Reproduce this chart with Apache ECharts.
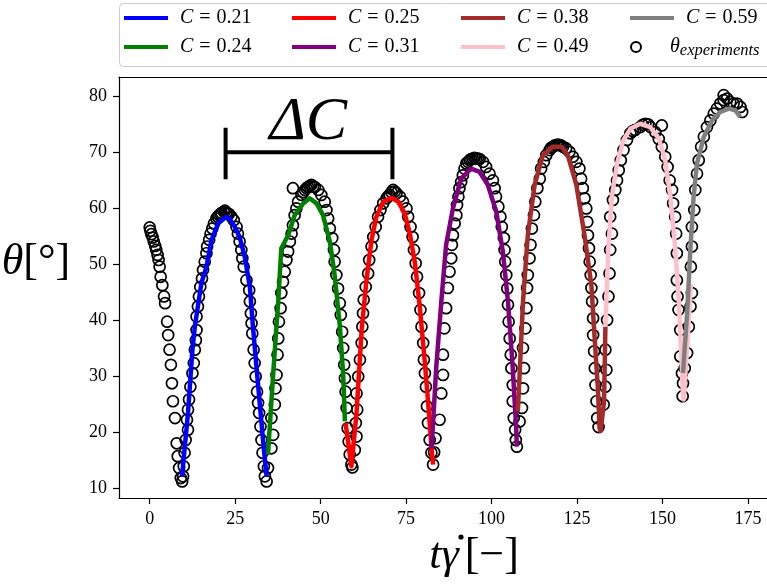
<!DOCTYPE html>
<html><head><meta charset="utf-8">
<script src="https://cdn.jsdelivr.net/npm/echarts@6/dist/echarts.min.js"></script>
<style>html,body{margin:0;padding:0;background:#fff}#c{width:767px;height:585px}</style>
</head><body><div id="c"></div>
<script>
const xTicks = [0, 25, 50, 75, 100, 125, 150, 175];
const yTicks = [10, 20, 30, 40, 50, 60, 70, 80];

const experiments = [
[0.0,56.6],[0.2,56.0],[0.5,55.4],[0.9,54.8],[1.2,54.1],[1.6,53.3],[1.9,52.6],[2.3,51.7],[2.6,50.8],[2.9,49.6],[3.2,47.8],[3.7,46.3],[4.2,44.3],[4.5,43.1],[5.1,39.8],[5.4,37.4],[5.8,34.8],[6.2,32.1],[6.5,28.8],[6.8,25.6],[7.4,22.6],[7.9,18.1],[8.2,15.8],[8.6,13.7],[9.1,11.9],[9.5,11.3],
[9.75,12.2],[9.95,14.0],[10.2,16.4],[10.5,18.7],[11.2,20.5],[10.9,22.3],[11.2,24.1],[11.5,25.9],[11.9,28.2],[12.5,30.6],[12.9,32.4],[13.2,34.8],[13.5,36.5],[13.7,38.3],[13.7,40.7],[14.1,42.5],[14.4,44.3],[14.8,46.0],[15.3,47.5],[15.6,49.0],[16.1,50.5],[16.6,52.0],[16.8,53.2],[17.4,54.4],[17.8,55.5],[18.3,56.4],[18.8,57.3],[19.5,58.2],[19.9,58.5],[20.3,58.8],[20.7,59.0],[21.0,59.2],[21.7,59.4],[22.0,59.6],[22.4,59.2],[22.8,59.1],[23.2,59.0],[23.9,58.5],[24.6,57.9],[25.4,56.7],[25.8,55.5],[26.3,54.1],[26.8,52.6],[27.1,51.1],[27.5,49.6],[28.3,47.2],[29.1,45.4],[29.3,43.4],[29.6,41.3],[29.8,39.5],[30.0,37.7],[30.4,34.8],[30.7,32.4],[31.0,30.0],[31.4,27.3],[31.7,25.3],[32.0,23.5],[32.4,21.1],[32.7,18.7],[33.0,16.4],[33.4,14.0],[33.7,12.2],[34.2,11.3],
[34.6,13.7],[35.6,17.2],[36.1,19.6],[35.6,22.6],[36.6,25.0],[36.8,27.9],[37.1,30.3],[37.4,33.9],[37.6,36.8],[37.8,39.8],[38.3,42.2],[38.5,44.9],[39.0,46.9],[39.5,48.7],[40.0,50.8],[40.5,52.3],[41.0,54.1],[41.5,55.5],[41.9,57.0],[42.4,58.8],[42.9,60.0],[43.4,61.2],[41.9,63.6],[44.4,62.4],[44.9,62.9],[45.4,63.3],[45.9,63.6],[46.3,63.8],[46.8,64.0],[47.3,64.2],[47.8,63.9],[48.3,63.8],[49.3,63.3],[50.2,62.4],[51.2,61.2],[51.7,59.7],[52.2,58.2],[52.7,56.4],[53.4,54.7],[53.9,52.6],[54.1,50.5],[54.6,48.1],[55.1,45.7],[55.6,43.1],[55.9,41.0],[56.3,38.0],[56.6,35.1],[56.9,32.1],[57.1,29.7],[57.3,27.3],[57.6,24.4],[57.9,20.8],[58.2,18.4],[58.5,16.1],[59.0,14.3],
[59.3,13.8],[60.0,16.9],[60.5,19.3],[60.3,21.7],[60.7,24.1],[60.5,27.0],[61.0,30.0],[61.5,33.0],[62.0,36.0],[62.2,38.9],[62.4,41.3],[62.6,43.7],[63.2,46.0],[63.9,48.4],[64.2,50.8],[64.9,53.2],[65.4,54.9],[66.1,56.7],[66.8,58.5],[67.5,59.7],[68.3,60.9],[69.3,61.8],[69.8,62.2],[70.2,62.4],[70.7,62.9],[71.2,63.3],[71.7,63.0],[72.2,62.7],[73.2,62.1],[74.1,61.2],[75.1,60.0],[75.6,58.5],[76.3,56.7],[76.9,54.9],[77.3,52.6],[77.8,50.2],[78.2,47.8],[78.8,44.9],[79.2,41.9],[79.5,38.9],[80.0,36.0],[80.2,33.0],[80.5,30.6],[80.8,28.2],[81.1,24.7],[81.4,21.7],[81.9,18.7],[82.4,16.4],[82.9,14.3],
[83.2,16.5],[83.6,19.0],[84.8,22.3],[85.3,27.0],[85.8,30.3],[85.8,33.9],[86.2,38.6],[86.7,42.2],[87.2,45.8],[87.7,48.7],[88.2,51.1],[88.4,53.5],[88.7,55.2],[89.2,57.3],[89.7,58.8],[89.9,60.6],[90.3,62.1],[90.6,63.6],[91.1,64.7],[91.6,65.9],[92.1,67.1],[92.6,68.0],[93.1,68.3],[93.6,68.6],[94.0,68.8],[94.5,68.9],[95.0,69.0],[95.5,68.9],[96.0,68.9],[96.5,68.8],[97.5,68.3],[98.4,67.4],[99.4,66.2],[100.4,65.0],[100.9,63.6],[101.3,62.1],[102.0,60.3],[102.6,58.5],[103.0,56.7],[103.6,54.7],[103.8,52.6],[104.0,50.5],[104.3,48.1],[104.6,45.7],[104.8,42.8],[105.0,39.8],[105.3,36.8],[105.6,33.9],[105.8,31.5],[106.2,28.5],[106.2,25.6],[106.5,22.6],[106.9,20.5],[107.1,18.7],[107.4,17.5],
[108.2,22.0],[108.9,24.4],[109.2,27.9],[109.5,31.5],[109.2,35.1],[109.9,38.6],[110.2,42.2],[110.4,45.8],[110.6,48.1],[111.1,51.1],[111.4,53.5],[111.8,56.4],[112.4,58.8],[112.8,61.2],[113.4,63.6],[114.1,65.3],[114.5,67.1],[115.3,68.3],[116.0,69.5],[117.0,70.4],[117.4,70.8],[117.9,71.0],[118.4,71.2],[118.9,71.3],[119.4,71.4],[119.9,71.3],[120.4,71.2],[120.9,71.0],[121.8,70.7],[122.8,70.1],[123.8,69.2],[124.8,68.3],[125.7,67.1],[126.2,65.3],[126.7,63.6],[127.2,61.8],[127.7,60.0],[128.0,57.6],[128.2,55.2],[128.5,52.9],[128.7,50.5],[129.0,48.1],[129.2,45.8],[129.4,43.4],[129.7,40.4],[129.7,37.4],[130.0,34.5],[130.2,31.5],[130.4,28.5],[130.7,25.6],[130.9,22.6],[131.3,21.0],
[132.8,25.0],[133.3,28.2],[133.6,31.2],[133.3,34.8],[133.8,40.1],[134.2,44.3],[134.5,48.4],[134.7,52.6],[135.2,55.5],[134.7,58.5],[135.5,61.5],[136.2,63.3],[136.7,65.0],[137.2,66.8],[137.8,68.6],[138.6,70.4],[139.6,72.2],[140.6,73.4],[141.3,73.8],[142.0,74.0],[143.5,74.5],[144.2,74.9],[145.0,75.1],[145.8,75.0],[146.5,74.5],[149.8,74.8],[147.9,73.6],[148.9,72.4],[149.8,71.0],[150.8,69.2],[151.5,67.4],[152.1,65.0],[152.8,63.3],[153.1,60.9],[153.7,58.5],[154.0,55.5],[154.2,52.0],[154.2,47.2],[154.4,44.3],[154.7,41.9],[155.2,38.3],[155.2,33.6],[155.7,30.6],[156.0,28.8],[155.9,26.5],
[156.5,31.5],[157.2,34.2],[157.7,38.9],[158.2,42.5],[158.6,44.9],[158.3,49.6],[158.6,53.2],[158.6,56.7],[159.3,59.7],[159.6,63.3],[160.1,66.2],[160.6,68.6],[161.3,71.0],[162.1,72.8],[163.0,74.5],[164.0,75.7],[165.0,76.9],[165.9,77.8],[166.9,78.7],[167.9,79.3],[167.9,80.2],[168.9,79.6],[169.8,79.0],[170.8,78.7],[171.8,78.7],[172.8,78.1],[173.3,77.2]
];

const fit021 = [[9.45,12.2],[11.2,23.5],[12.5,34.8],[13.2,38.9],[15.1,46.6],[16.6,49.6],[18.1,54.4],[20.0,57.3],[21.9,58.3],[22.6,58.5],[23.4,58.1],[24.9,56.7],[26.3,54.9],[27.8,51.4],[29.3,46.0],[30.2,38.9],[31.4,30.6],[32.7,21.7],[33.7,15.2],[34.2,12.2]];
const fit024 = [[34.6,16.1],[36.1,30.3],[37.6,43.4],[38.5,52.9],[40.5,55.2],[42.4,58.8],[44.9,60.9],[46.8,61.8],[48.8,60.9],[50.7,58.8],[52.7,54.1],[54.1,48.1],[55.6,39.2],[56.6,30.3],[57.1,22.0]];
const fit025 = [[57.3,21.7],[59.0,14.0],[60.5,23.5],[62.0,38.3],[63.4,47.2],[64.9,54.4],[66.3,58.5],[68.3,61.2],[70.7,61.9],[72.7,61.2],[74.6,59.1],[76.1,55.5],[77.6,50.2],[79.0,42.5],[80.5,32.4],[81.7,23.5],[82.4,17.5],[82.9,14.3]];
const fit031 = [[82.4,17.2],[82.8,20.8],[83.8,31.5],[85.3,43.4],[86.7,53.5],[88.7,60.0],[91.1,65.3],[94.0,67.1],[96.5,66.5],[98.9,64.2],[101.4,59.4],[103.3,52.3],[104.8,43.4],[106.2,31.5],[107.2,20.8],[107.4,17.5]];
const fit038 = [[107.7,23.8],[109.2,43.4],[110.6,55.2],[112.6,64.2],[115.0,69.5],[117.9,71.0],[120.4,71.0],[122.3,69.5],[124.8,64.2],[127.2,55.2],[129.2,46.3],[130.1,37.4],[131.1,27.9],[131.6,20.8],[131.9,20.3],[132.9,25.5],[133.3,38.9]];
const fit049 = [[133.3,38.9],[134.2,53.2],[135.2,62.1],[136.7,68.0],[138.6,72.2],[140.6,74.2],[143.5,75.1],[146.4,74.5],[148.9,72.5],[150.8,68.6],[152.3,62.1],[153.7,53.2],[154.7,44.3],[155.4,35.3],[156.0,26.4],[156.2,25.9],[157.3,36.0],[158.3,46.5]];
const fit059 = [[156.0,30.6],[157.2,41.3],[158.2,53.2],[159.1,62.1],[160.1,68.0],[162.1,72.8],[164.5,75.7],[166.9,77.2],[169.4,77.8],[171.3,77.5],[172.8,76.3]];

const fitNames = ['C = 0.21','C = 0.24','C = 0.25','C = 0.31','C = 0.38','C = 0.49','C = 0.59'];
const fitData = [fit021, fit024, fit025, fit031, fit038, fit049, fit059];
const fitColors = ['#0000ff','#008000','#ff0000','#800080','#a52a2a','#ffc0cb','#808080'];
const expName = 'θ_experiments';

const deltaCBar = [[22.2,74.4],[22.2,65.2],[22.2,70.0],[71.0,70.0],[71.0,74.4],[71.0,65.2]];
const deltaCLabel = [[46.4,75.3]];

const FF = 'Liberation Serif';
const chart = echarts.init(document.getElementById('c'), null, {renderer:'canvas'});

const series = [{
  name: expName, type: 'scatter', data: experiments, symbol: 'circle', symbolSize: 11,
  itemStyle: {color: 'rgba(0,0,0,0)', borderColor: '#000', borderWidth: 1.7, opacity: 1},
  z: 2, silent: true, animation: false
}];
fitData.forEach((d, i) => series.push({
  name: fitNames[i], type: 'line', data: d, showSymbol: false, symbol: 'none',
  lineStyle: {color: fitColors[i], width: 4.5, cap: 'butt', join: 'round', opacity: 1},
  itemStyle: {color: fitColors[i]}, z: 3 + i, silent: true, animation: false
}));
series.push({
  name: 'dc', type: 'line', data: deltaCBar, showSymbol: false, symbol: 'none',
  lineStyle: {color: '#000', width: 4, cap: 'butt', join: 'miter'}, z: 20, silent: true, animation: false
});
series.push({
  name: 'dcl', type: 'scatter', data: deltaCLabel, symbolSize: 0, silent: true, animation: false,
  itemStyle: {opacity: 1},
  label: {show: true, position: 'inside', formatter: 'ΔC', fontFamily: FF, fontStyle: 'italic', fontSize: 62, color: '#000', opacity: 1},
  z: 21
});

const colLeft = [124, 292, 461, 630];
const legendOrder = [['C = 0.21','C = 0.24'],['C = 0.25','C = 0.31'],['C = 0.38','C = 0.49'],['C = 0.59', expName]];
const rowTop = [6, 35];
const legends = [];
legendOrder.forEach((col, ci) => col.forEach((nm, ri) => {
  const isExp = nm === expName;
  const col = isExp ? '#000' : fitColors[fitNames.indexOf(nm)];
  legends.push({
    data: [nm], left: colLeft[ci], top: rowTop[ri], padding: 0, selectedMode: false,
    itemWidth: 44, itemHeight: isExp ? 10 : 4, icon: isExp ? 'circle' : 'rect',
    itemStyle: isExp ? {color: 'rgba(0,0,0,0)', borderColor: '#000', borderWidth: 2, opacity: 1} : {color: col, borderWidth: 0, opacity: 1},
    lineStyle: isExp ? undefined : {color: col},
    formatter: n => isExp ? '{g| }{t|θ}{s|experiments}' : '{g| }{i|C}{e|=}' + n.split('= ')[1],
    textStyle: {
      fontFamily: FF, fontSize: 20, color: '#000', lineHeight: 24,
      rich: {
        g: {width: 7},
        i: {fontFamily: FF, fontStyle: 'italic', fontSize: 20, lineHeight: 24},
        e: {fontFamily: FF, fontSize: 20, lineHeight: 24, padding: [0, 6, 0, 6]},
        t: {fontFamily: FF, fontStyle: 'italic', fontSize: 20, lineHeight: 24},
        s: {fontFamily: FF, fontStyle: 'italic', fontSize: 16.5, lineHeight: 15, verticalAlign: 'bottom'}
      }
    }
  });
}));

chart.setOption({
  animation: false,
  backgroundColor: '#fff',
  grid: {left: 119, top: 77, right: 0, bottom: 87, show: false, containLabel: false},
  xAxis: [{
    type: 'value', min: -8.98, max: 180.57,
    axisLine: {onZero: false, lineStyle: {color: '#000', width: 1.2}},
    axisTick: {show: true, length: 6, customValues: xTicks, lineStyle: {color: '#000', width: 1.2}},
    axisLabel: {customValues: xTicks, fontFamily: FF, fontSize: 18, color: '#000', margin: 12},
    splitLine: {show: false}
  }, {
    type: 'value', position: 'top', min: -8.98, max: 180.57,
    axisLine: {show: true, onZero: false, lineStyle: {color: '#000', width: 1.2}},
    axisTick: {show: false}, axisLabel: {show: false}, splitLine: {show: false}
  }],
  yAxis: {
    type: 'value', min: 8.34, max: 83.44,
    axisLine: {show: true, onZero: false, lineStyle: {color: '#000', width: 1.2}},
    axisTick: {show: true, length: 6, customValues: yTicks, lineStyle: {color: '#000', width: 1.2}},
    axisLabel: {customValues: yTicks, fontFamily: FF, fontSize: 18, color: '#000', margin: 12},
    splitLine: {show: false}
  },
  legend: legends,
  graphic: [
    {type: 'rect', left: 119, top: 3, z: -1, shape: {width: 720, height: 63, r: 4},
     style: {fill: 'rgba(255,255,255,0.8)', stroke: '#cccccc', lineWidth: 1}},
    {type: 'text', x: 36, y: 262, style: {
      text: '{t|θ}{b|[°]}', align: 'center', verticalAlign: 'middle',
      rich: {t: {fontFamily: FF, fontStyle: 'italic', fontSize: 44}, b: {fontFamily: FF, fontSize: 44}}
    }},
    {type: 'text', x: 474, y: 556, style: {
      text: '{t|tγ}{b|[−]}', align: 'center', verticalAlign: 'middle',
      rich: {t: {fontFamily: FF, fontStyle: 'italic', fontSize: 44, padding: [0, 6, 0, 0]}, b: {fontFamily: FF, fontSize: 44}}
    }},
    {type: 'circle', shape: {cx: 461, cy: 537, r: 2.6}, style: {fill: '#000'}}
  ],
  series: series
});
</script>
</body></html>
